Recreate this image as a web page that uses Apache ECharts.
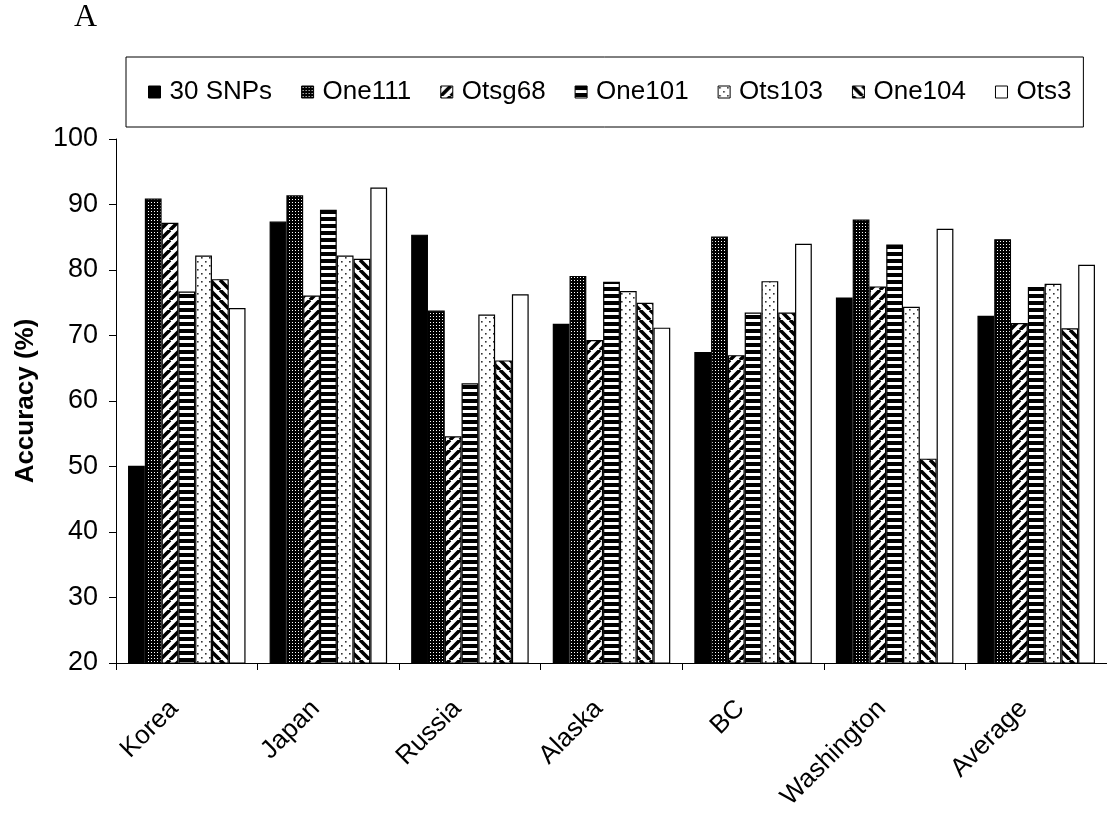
<!DOCTYPE html>
<html>
<head>
<meta charset="utf-8">
<script src="https://cdn.jsdelivr.net/npm/echarts@6/dist/echarts.min.js"></script>
<style>
html,body{margin:0;padding:0;background:#fff;}
#chart{width:1107px;height:813px;}
</style>
</head>
<body>
<div id="chart"></div>
<script>
const categories = ['Korea','Japan','Russia','Alaska','BC','Washington','Average'];
const seriesNames = ['30 SNPs','One111','Otsg68','One101','Ots103','One104','Ots3'];
const snps30 = [50.1, 87.4, 85.4, 71.8, 67.5, 75.8, 73.0];
const one111 = [90.9, 91.4, 73.8, 79.1, 85.1, 87.7, 84.7];
const otsg68 = [87.2, 76.1, 54.6, 69.3, 67.0, 77.5, 71.9];
const one101 = [76.7, 89.2, 62.7, 78.2, 73.5, 83.9, 77.4];
const ots103 = [82.2, 82.2, 73.2, 76.8, 78.3, 74.4, 77.9];
const one104 = [78.6, 81.7, 66.2, 75.0, 73.5, 51.2, 71.1];
const ots3   = [74.2, 92.6, 76.3, 71.2, 84.0, 86.3, 80.8];
const yTicks = [20, 30, 40, 50, 60, 70, 80, 90, 100];

function pattern(kind) {
  const c = document.createElement('canvas');
  let ctx;
  if (kind === 'solid') return '#000';
  if (kind === 'white') return '#fff';
  if (kind === 'grid') {
    c.width = 3; c.height = 3; ctx = c.getContext('2d');
    ctx.fillStyle = '#000'; ctx.fillRect(0,0,3,3);
    ctx.fillStyle = '#fff'; ctx.fillRect(1,1,1,1);
  } else if (kind === 'fwd' || kind === 'back') {
    const s = 10;
    c.width = s; c.height = s; ctx = c.getContext('2d');
    ctx.fillStyle = '#fff'; ctx.fillRect(0,0,s,s);
    ctx.strokeStyle = '#000'; ctx.lineWidth = 3.6; ctx.beginPath();
    for (const k of [-s, 0, s]) {
      if (kind === 'fwd') { ctx.moveTo(k, s); ctx.lineTo(k + s, 0); }
      else { ctx.moveTo(k, 0); ctx.lineTo(k + s, s); }
    }
    ctx.stroke();
  } else if (kind === 'horiz') {
    c.width = 4; c.height = 7; ctx = c.getContext('2d');
    ctx.fillStyle = '#fff'; ctx.fillRect(0,0,4,7);
    ctx.fillStyle = '#000'; ctx.fillRect(0,0,4,4);
  } else if (kind === 'dots') {
    c.width = 8; c.height = 8; ctx = c.getContext('2d');
    ctx.fillStyle = '#fff'; ctx.fillRect(0,0,8,8);
    ctx.fillStyle = '#333';
    ctx.fillRect(1,1,1.6,1.6); ctx.fillRect(5,5,1.6,1.6);
  }
  return { image: c, repeat: 'repeat' };
}

const kinds = ['solid','grid','fwd','horiz','dots','back','white'];
const values = [snps30, one111, otsg68, one101, ots103, one104, ots3];

const chart = echarts.init(document.getElementById('chart'), null, {renderer: 'canvas'});
const font = 'Liberation Sans, Arial, sans-serif';

chart.setOption({
  animation: false,
  backgroundColor: '#fff',
  title: {
    text: 'A', left: 74, top: 2, padding: 0,
    textStyle: {fontFamily: 'Liberation Serif, Times New Roman, serif', fontSize: 32, fontWeight: 'normal', color: '#000'}
  },
  legend: {
    data: seriesNames,
    left: 126, top: 57,
    orient: 'horizontal',
    borderColor: '#000', borderWidth: 1,
    padding: [22, 12, 22, 22],
    itemWidth: 12, itemHeight: 12, itemGap: 29,
    icon: 'rect',
    textStyle: {fontFamily: font, fontSize: 26, color: '#000', padding: [0,0,0,4]},
    itemStyle: {borderColor: '#000', borderWidth: 1}
  },
  grid: {left: 116, right: 0, top: 139, bottom: 150, containLabel: false},
  xAxis: {
    type: 'category',
    data: categories,
    axisLine: {show: true, lineStyle: {color: '#000', width: 1}},
    axisTick: {show: true, length: 7, lineStyle: {color: '#000'}},
    axisLabel: {interval: 0, rotate: 45, margin: 29, padding: [0, 18, 0, 0], fontFamily: font, fontSize: 26, color: '#000'},
    splitLine: {show: false}
  },
  yAxis: {
    type: 'value',
    min: yTicks[0], max: yTicks[yTicks.length - 1], interval: 10,
    name: 'Accuracy (%)',
    nameLocation: 'middle',
    nameGap: 77,
    nameRotate: 90,
    nameTextStyle: {fontFamily: font, fontSize: 26, fontWeight: 'bold', color: '#000'},
    axisLine: {show: true, lineStyle: {color: '#000', width: 1}},
    axisTick: {show: true, length: 7, lineStyle: {color: '#000'}},
    axisLabel: {margin: 18, fontFamily: font, fontSize: 27, color: '#000'},
    splitLine: {show: false}
  },
  series: seriesNames.map((name, i) => ({
    name: name,
    type: 'bar',
    data: values[i],
    barGap: '0%',
    barCategoryGap: '17%',
    itemStyle: {color: pattern(kinds[i]), borderColor: '#000', borderWidth: 1.2},
    emphasis: {disabled: true}
  }))
});
</script>
</body>
</html>
